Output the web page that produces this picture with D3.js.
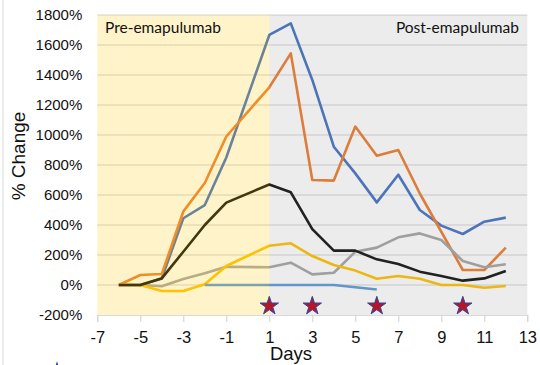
<!DOCTYPE html>
<html>
<head>
<meta charset="utf-8">
<script src="https://cdn.jsdelivr.net/npm/d3@7"></script>
<style>
    body { margin: 0; background: #fff; }
    svg { display: block; }
</style>
</head>
<body>
<div id="chart"></div>
<script>
const daysFull = [-6, -5, -4, -3, -2, -1, 1, 2, 3, 4, 5, 6, 7, 8, 9, 10, 11, 12];
const blueVals = [0, 0, 45, 445, 533, 850, 1667, 1744, 1367, 922, 744, 551, 735, 500, 396, 340, 422, 449];
const orangeVals = [0, 67, 73, 490, 680, 990, 1318, 1544, 700, 696, 1056, 862, 900, 610, 355, 100, 100, 249];
const grayVals = [0, 0, -8, 40, 78, 122, 118, 149, 71, 82, 222, 249, 318, 344, 300, 160, 118, 138];
const yellowVals = [0, 0, -40, -40, 5, 127, 262, 278, 193, 133, 96, 42, 60, 42, 0, 0, -18, -7];
const blackVals = [0, 0, 44, 222, 400, 549, 670, 618, 373, 229, 229, 171, 140, 89, 60, 29, 44, 93];
const lightBlueDays = [-2, -1, 1, 2, 3, 4, 5, 6];
const lightBlueVals = [0, 0, 0, 0, 0, 0, -15, -30];
const starDays = [1, 3, 6, 10];
const starLevel = -140;
const xTicks = [-7, -5, -3, -1, 1, 3, 5, 7, 9, 11, 13];
const yTicks = [-200, 0, 200, 400, 600, 800, 1000, 1200, 1400, 1600, 1800];

const width = 540, height = 365;
const x = d3.scaleLinear().domain([-7, 13]).range([97.3, 527.3]);
const y = d3.scaleLinear().domain([-200, 1800]).range([315, 15]);

const series = [
    {days: daysFull, vals: blueVals, color: '#4472C4'},
    {days: daysFull, vals: orangeVals, color: '#ED7D31'},
    {days: daysFull, vals: grayVals, color: '#A5A5A5'},
    {days: daysFull, vals: yellowVals, color: '#FFC000'},
    {days: lightBlueDays, vals: lightBlueVals, color: '#5B9BD5'},
    {days: daysFull, vals: blackVals, color: '#111111'}
];

function render() {
    const svg = d3.select('#chart').append('svg')
        .attr('width', width)
        .attr('height', height);

    // chart border on the left edge
    svg.append('line')
        .attr('x1', 3).attr('x2', 3)
        .attr('y1', 0).attr('y2', height)
        .attr('stroke', '#d9d9d9');

    // gridlines
    svg.append('g')
        .selectAll('line')
        .data(yTicks.filter(v => v > -200))
        .enter().append('line')
        .attr('x1', x(-7)).attr('x2', x(13))
        .attr('y1', d => y(d)).attr('y2', d => y(d))
        .attr('stroke', '#e2e2e2')
        .attr('stroke-width', 1.5);

    const line = d3.line()
        .x(d => x(d[0]))
        .y(d => y(d[1]));

    svg.append('g')
        .selectAll('path')
        .data(series)
        .enter().append('path')
        .attr('d', s => line(s.days.map((d, i) => [d, s.vals[i]])))
        .attr('fill', 'none')
        .attr('stroke', s => s.color)
        .attr('stroke-width', 2.6)
        .attr('stroke-linejoin', 'round');

    // shaded periods (semi-transparent, over the lines)
    svg.append('rect')
        .attr('x', x(-7)).attr('y', y(1800))
        .attr('width', x(1) - x(-7)).attr('height', y(-200) - y(1800))
        .attr('fill', '#FFC400')
        .attr('opacity', 0.21);
    svg.append('rect')
        .attr('x', x(1)).attr('y', y(1800))
        .attr('width', x(13) - x(1)).attr('height', y(-200) - y(1800))
        .attr('fill', '#7f7f7f')
        .attr('opacity', 0.15);

    svg.append('text')
        .attr('x', 105).attr('y', 33)
        .attr('font-family', 'Lato, sans-serif')
        .attr('font-size', 15.5)
        .attr('fill', '#111')
        .text('Pre-emapulumab');
    svg.append('text')
        .attr('x', 519).attr('y', 33)
        .attr('text-anchor', 'end')
        .attr('font-family', 'Lato, sans-serif')
        .attr('font-size', 15.5)
        .attr('fill', '#111')
        .text('Post-emapulumab');

    // axes
    const xAxis = svg.append('g')
        .attr('transform', `translate(0,${y(-200)})`)
        .call(d3.axisBottom(x).tickValues(xTicks).tickFormat(d => String(d)).tickSize(7).tickPadding(9));
    xAxis.select('.domain').attr('stroke', '#d9d9d9');
    xAxis.selectAll('.tick line').attr('stroke', '#d0d0d0');
    xAxis.selectAll('text')
        .attr('font-family', '"Liberation Sans", Arial, sans-serif')
        .attr('font-size', 16.5)
        .attr('fill', '#111');

    const yAxis = svg.append('g')
        .attr('transform', `translate(${x(-7)},0)`)
        .call(d3.axisLeft(y).tickValues(yTicks).tickFormat(d => d + '%').tickSize(0).tickPadding(15));
    yAxis.select('.domain').remove();
    yAxis.selectAll('text')
        .attr('font-family', '"Liberation Sans", Arial, sans-serif')
        .attr('font-size', 15)
        .attr('fill', '#111');

    svg.append('text')
        .attr('transform', 'translate(25,156) rotate(-90)')
        .attr('text-anchor', 'middle')
        .attr('font-family', '"Liberation Sans", Arial, sans-serif')
        .attr('font-size', 19)
        .attr('fill', '#111')
        .text('% Change');
    svg.append('text')
        .attr('x', 291).attr('y', 360)
        .attr('text-anchor', 'middle')
        .attr('font-family', '"Liberation Sans", Arial, sans-serif')
        .attr('font-size', 18.5)
        .attr('fill', '#111')
        .text('Days');

    // dosing stars
    const star = d3.symbol().type(d3.symbolStar).size(105);
    svg.append('g')
        .selectAll('path')
        .data(starDays)
        .enter().append('path')
        .attr('d', star)
        .attr('transform', d => `translate(${x(d)},${y(starLevel)})`)
        .attr('fill', '#B3162B')
        .attr('stroke', '#34479a')
        .attr('stroke-width', 1);

    // legend star, cut off at the bottom edge
    svg.append('path')
        .attr('d', star)
        .attr('transform', 'translate(57,371)')
        .attr('fill', '#2f3f8f');
}

render();
</script>
</body>
</html>
